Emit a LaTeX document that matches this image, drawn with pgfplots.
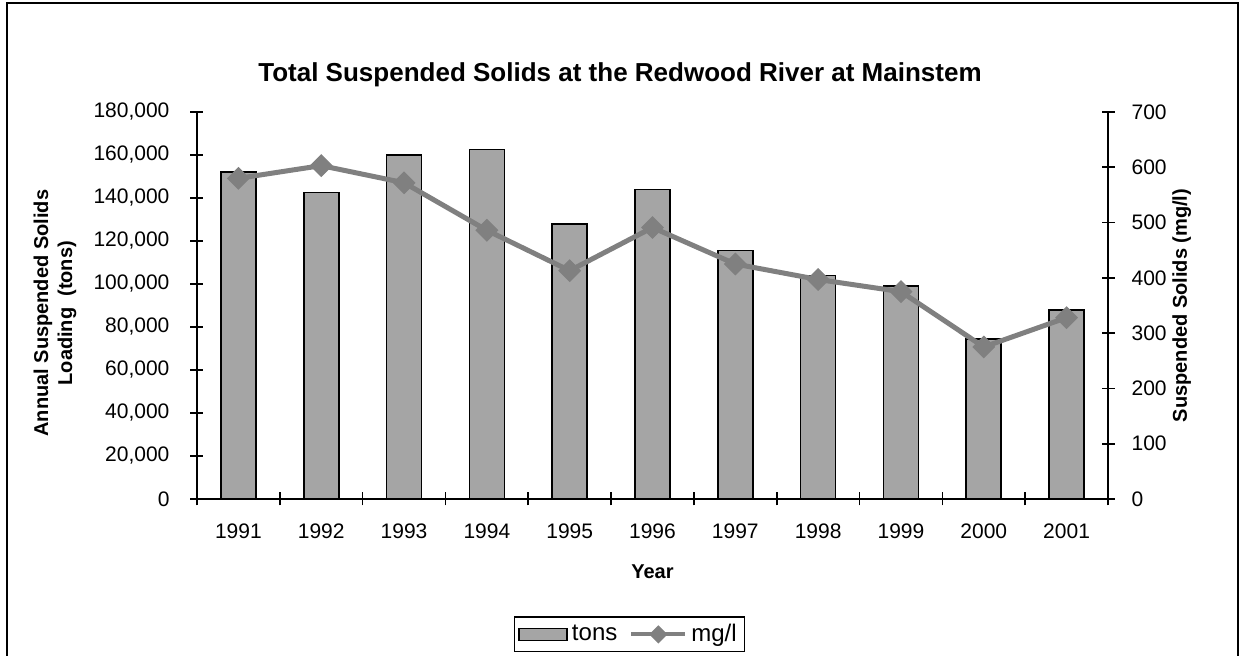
\documentclass[border=0pt]{standalone}
\usepackage{fontspec}
\setmainfont{Liberation Sans}
\usepackage{pgfplots}
\pgfplotsset{compat=1.18}
\definecolor{barfill}{RGB}{165,165,165}
\definecolor{linegray}{RGB}{128,128,128}

\pgfplotsset{
  mylineleg/.style={legend image code/.code={\draw[linegray, line width=2pt] (0pt,0pt) -- (27pt,0pt);
      \fill[linegray] (13.5pt,0pt) +(0,2.8pt) -- +(2.8pt,0) -- +(0,-2.8pt) -- +(-2.8pt,0) -- cycle;}},
  mybarleg/.style={legend image code/.code={\draw[draw=black,fill=barfill,line width=0.8pt] (0pt,-3pt) rectangle (24pt,3pt);}},
}

\pgfplotstableread{
x year tons mgl
0 1991 152000 580
1 1992 142500 603
2 1993 160000 572
3 1994 162500 486
4 1995 128000 413
5 1996 144000 491
6 1997 115500 425
7 1998 104000 397
8 1999 99000 375
9 2000 74500 275
10 2001 88000 328
}\datatable

\begin{document}
\begin{tikzpicture}
\useasboundingbox (-98.5pt,-78.5pt) rectangle (522pt,249.5pt);
\draw[line width=1pt] (-95pt,-80pt) -- (-95pt,248pt) -- (520.5pt,248pt) -- (520.5pt,-80pt);
\node[font=\bfseries\fontsize{13}{15}\selectfont] at (211.5pt,212pt) {Total Suspended Solids at the Redwood River at Mainstem};

\pgfplotsset{
  every axis/.append style={
    scale only axis, width=455.5pt, height=193.5pt,
    xmin=-0.5, xmax=10.5,
    tick align=center, major tick length=6.5pt,
    tick style={black, line width=0.8pt},
    axis line style={black, line width=1pt},
    tick label style={font=\fontsize{10.5}{12}\selectfont},
    label style={font=\bfseries\fontsize{10}{12}\selectfont},
    /pgf/number format/assume math mode=true,
  }
}

\begin{axis}[
  at={(0pt,0pt)}, anchor=south west,
  ymin=0, ymax=180000,
  axis y line*=left, axis x line*=bottom,
  xtick={-0.5,0.5,...,10.5},
  x tick label as interval,
  xticklabels={1991,1992,1993,1994,1995,1996,1997,1998,1999,2000,2001},
  xticklabel style={yshift=-5.5pt},
  ytick={0,20000,...,180000},
  scaled y ticks=false,
  yticklabel style={xshift=-7pt, /pgf/number format/.cd, fixed, 1000 sep={,}},
  ylabel={Annual Suspended Solids\\Loading\ \ (tons)},
  ylabel style={at={(axis description cs:-0.156,0.48)}, anchor=center, align=center},
  xlabel={Year},
  xlabel style={at={(axis description cs:0.5,-0.1886)}, anchor=center},
]
\addplot[ybar, bar width=17.5pt, draw=black, line width=0.8pt, fill=barfill] table[x=x, y=tons] {\datatable};
\end{axis}

\begin{axis}[
  at={(0pt,0pt)}, anchor=south west,
  ymin=0, ymax=700,
  axis y line*=right, axis x line=none,
  ytick={0,100,...,700},
  yticklabel style={xshift=5pt},
  ylabel={Suspended Solids (mg/l)},
  ylabel style={at={(axis description cs:1.081,0.5)}, anchor=center},
  legend style={at={(axis description cs:0.4748,-0.350)}, anchor=center, draw=black, line width=0.8pt,
    font=\fontsize{12}{14}\selectfont, legend columns=2, inner ysep=1.5pt, inner xsep=2pt,
    /tikz/every even column/.append style={column sep=4pt}},
]
\addlegendimage{mybarleg}
\addlegendentry{tons}
\addplot[linegray, line width=2.5pt, mark=square*, mark size=3.8pt,
  mark options={rotate=45, fill=linegray, draw=linegray, line width=0.5pt}, mylineleg]
  table[x=x, y=mgl] {\datatable};
\addlegendentry{mg/l}
\end{axis}
\end{tikzpicture}
\end{document}
